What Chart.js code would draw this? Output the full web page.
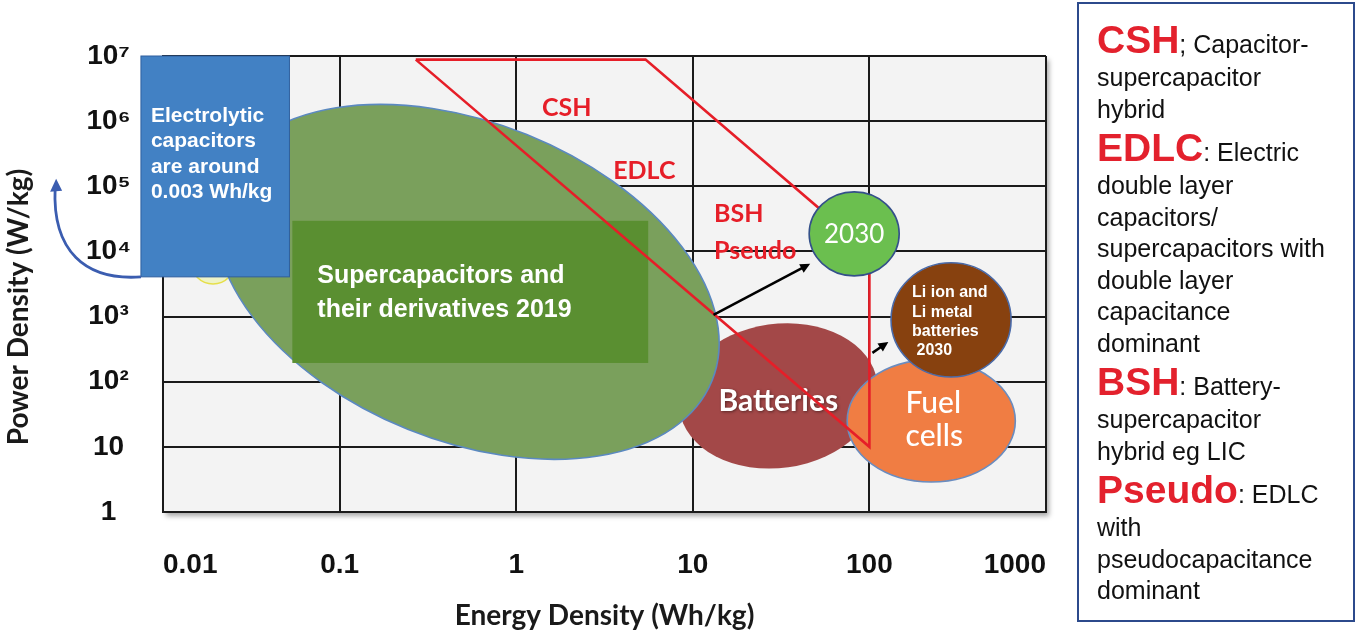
<!DOCTYPE html>
<html>
<head>
<meta charset="utf-8">
<title>Ragone plot</title>
<script src="https://cdn.jsdelivr.net/npm/chart.js@4.4.1/dist/chart.umd.min.js"></script>
<style>
  html, body { margin: 0; padding: 0; background: #fff; }
  #wrap { position: absolute; left: 0; top: 0; width: 1082px; height: 640px; }
  #key {
    position: absolute; left: 1077px; top: 2px; width: 256px; height: 603px;
    border: 2px solid #2c4a8c; padding: 13px 0 0 18px;
    font-family: "Liberation Sans", Arial, sans-serif; color: #111;
  }
  #key .h { height: 45px; line-height: 45px; font-size: 39px; white-space: nowrap; }
  #key .h b { color: #e3212d; }
  #key .h span { font-size: 25px; }
  #key .l { height: 31.5px; line-height: 31.5px; font-size: 25px; white-space: nowrap; }
</style>
</head>
<body>
<div id="wrap"><canvas id="ragone"></canvas></div>
<div id="key">
  <div class="h"><b>CSH</b><span>; Capacitor-</span></div>
  <div class="l">supercapacitor</div>
  <div class="l">hybrid</div>
  <div class="h"><b>EDLC</b><span>: Electric</span></div>
  <div class="l">double layer</div>
  <div class="l">capacitors/</div>
  <div class="l">supercapacitors with</div>
  <div class="l">double layer</div>
  <div class="l">capacitance</div>
  <div class="l">dominant</div>
  <div class="h"><b>BSH</b><span>: Battery-</span></div>
  <div class="l">supercapacitor</div>
  <div class="l">hybrid eg LIC</div>
  <div class="h"><b>Pseudo</b><span>: EDLC</span></div>
  <div class="l">with</div>
  <div class="l">pseudocapacitance</div>
  <div class="l">dominant</div>
</div>
<script>
// axes
const energyTicks = [0.01, 0.1, 1, 10, 100, 1000];
const energyLabels = ['0.01', '0.1', '1', '10', '100', '1000'];
const powerTicks = [1, 10, 1e2, 1e3, 1e4, 1e5, 1e6, 1e7];
const powerLabels = ['1', '10', '10²', '10³', '10⁴', '10⁵', '10⁶', '10⁷'];

// red envelope (CSH / EDLC / BSH / Pseudo)
const envelopeE = [0.27, 5.4, 100, 100, 0.27];
const envelopeP = [8.8e6, 8.8e6, 1.0e4, 10, 8.8e6];

// regions: centre (Wh/kg, W/kg) and half span in decades
const regionE = [0.0192, 30.5, 0.528, 224, 82, 290];
const regionP = [6920, 60.5, 3410, 25, 18600, 890];
const regionSpanE = [0.125, 0.566, 1.495, 0.476, 0.255, 0.34];
const regionSpanP = [0.34, 1.106, 2.44, 0.937, 0.645, 0.876];

// boxes [min, max]
const electrolyticE = [0.0075, 0.052];
const electrolyticP = [4070, 1e7];
const superBoxE = [0.054, 5.59];
const superBoxP = [194, 2.95e4];

// arrows
const arrowFromE = [13.1, 104];
const arrowFromP = [1060, 277];
const arrowToE = [46.2, 128];
const arrowToP = [6450, 408];
const curveTipE = 0.00245;
const curveTipP = 1.3e5;

// red tags
const tagText = ['CSH', 'EDLC', 'BSH', 'Pseudo'];
const tagE = [1.40, 3.54, 13.2, 13.2];
const tagP = [1.6e6, 1.73e5, 3.78e4, 1.02e4];

// styles
const regionFill = ['#eef3c8', '#a34848', '#7aa05c', '#f07d43', '#6bbf4f', '#87410f'];
const regionEdge = ['#e6df4a', null, '#5b89c0', '#6a8cbf', '#34508a', '#4a6aa8'];
const regionTilt = [0, -8, 22, 0, 0, 0];
const RED = '#e61e28';
const ARIAL = '"Liberation Sans", Arial, sans-serif';
const CALIBRI = 'Lato, "Open Sans", sans-serif';

function blob(ctx, xs, ys, i) {
  const cx = xs.getPixelForValue(regionE[i]), cy = ys.getPixelForValue(regionP[i]);
  const rx = xs.getPixelForValue(regionE[i] * Math.pow(10, regionSpanE[i])) - cx;
  const ry = cy - ys.getPixelForValue(regionP[i] * Math.pow(10, regionSpanP[i]));
  ctx.save();
  ctx.beginPath();
  ctx.ellipse(cx, cy, rx, ry, regionTilt[i] * Math.PI / 180, 0, Math.PI * 2);
  ctx.fillStyle = regionFill[i];
  ctx.fill();
  if (regionEdge[i]) { ctx.strokeStyle = regionEdge[i]; ctx.lineWidth = 1.6; ctx.stroke(); }
  ctx.restore();
  return {cx, cy};
}

function label(ctx, str, x, y, font, color, align, shadow) {
  ctx.save();
  ctx.font = font; ctx.fillStyle = color;
  ctx.textAlign = align || 'center'; ctx.textBaseline = 'alphabetic';
  if (shadow) { ctx.shadowColor = 'rgba(0,0,0,0.45)'; ctx.shadowBlur = 3; ctx.shadowOffsetX = 1; ctx.shadowOffsetY = 1; }
  ctx.fillText(str, x, y);
  ctx.restore();
}

function arrow(ctx, x1, y1, x2, y2, color, w, head) {
  const ang = Math.atan2(y2 - y1, x2 - x1);
  ctx.save();
  ctx.strokeStyle = color; ctx.fillStyle = color; ctx.lineWidth = w;
  ctx.beginPath(); ctx.moveTo(x1, y1);
  ctx.lineTo(x2 - head * 0.7 * Math.cos(ang), y2 - head * 0.7 * Math.sin(ang)); ctx.stroke();
  ctx.beginPath(); ctx.moveTo(x2, y2);
  ctx.lineTo(x2 - head * Math.cos(ang - 0.45), y2 - head * Math.sin(ang - 0.45));
  ctx.lineTo(x2 - head * Math.cos(ang + 0.45), y2 - head * Math.sin(ang + 0.45));
  ctx.closePath(); ctx.fill();
  ctx.restore();
}

const shapes = {
  id: 'shapes',
  beforeDraw(chart) {
    const {ctx, chartArea: a} = chart;
    ctx.save();
    ctx.shadowColor = 'rgba(0,0,0,0.35)'; ctx.shadowBlur = 5;
    ctx.shadowOffsetX = 3; ctx.shadowOffsetY = 4;
    ctx.fillStyle = '#f3f3f3';
    ctx.fillRect(a.left, a.top, a.width, a.height);
    ctx.restore();
  },
  beforeDatasetsDraw(chart) {
    const ctx = chart.ctx, xs = chart.scales.x, ys = chart.scales.y;
    blob(ctx, xs, ys, 0);
    const bat = blob(ctx, xs, ys, 1);
    blob(ctx, xs, ys, 2);
    // supercapacitor box
    const l = xs.getPixelForValue(superBoxE[0]), r = xs.getPixelForValue(superBoxE[1]);
    const t = ys.getPixelForValue(superBoxP[1]), b = ys.getPixelForValue(superBoxP[0]);
    ctx.fillStyle = '#5a8f31';
    ctx.fillRect(l, t, r - l, b - t);
    label(ctx, 'Supercapacitors and', l + 25, t + 62, 'bold 25px ' + ARIAL, '#fff', 'left');
    label(ctx, 'their derivatives 2019', l + 25, t + 96, 'bold 25px ' + ARIAL, '#fff', 'left');
    const fuel = blob(ctx, xs, ys, 3);
    label(ctx, 'Batteries', bat.cx, bat.cy + 15, 'bold 30px ' + CALIBRI, '#fff', 'center', true);
    label(ctx, 'Fuel', fuel.cx + 2, fuel.cy - 8, '500 30px ' + CALIBRI, '#fff');
    label(ctx, 'cells', fuel.cx + 3, fuel.cy + 25, '500 30px ' + CALIBRI, '#fff');
  },
  afterDatasetsDraw(chart) {
    const ctx = chart.ctx, xs = chart.scales.x, ys = chart.scales.y;
    for (let i = 0; i < arrowFromE.length; i++) {
      arrow(ctx, xs.getPixelForValue(arrowFromE[i]), ys.getPixelForValue(arrowFromP[i]),
        xs.getPixelForValue(arrowToE[i]), ys.getPixelForValue(arrowToP[i]), '#000', 2.5, 11);
    }
    const c30 = blob(ctx, xs, ys, 4);
    label(ctx, '2030', c30.cx, c30.cy + 9, '26px ' + CALIBRI, '#fff');
    const li = blob(ctx, xs, ys, 5);
    const liLines = ['Li ion and', 'Li metal', 'batteries', ' 2030'];
    const liDy = [-23, -3, 16, 35];
    liLines.forEach((s, k) => label(ctx, s, li.cx - 39, li.cy + liDy[k], 'bold 16px ' + ARIAL, '#fff', 'left'));
    // electrolytic capacitors box
    const l = xs.getPixelForValue(electrolyticE[0]), r = xs.getPixelForValue(electrolyticE[1]);
    const t = ys.getPixelForValue(electrolyticP[1]), b = ys.getPixelForValue(electrolyticP[0]);
    ctx.save();
    ctx.fillStyle = '#4281c4'; ctx.strokeStyle = '#2f5f9e'; ctx.lineWidth = 1;
    ctx.fillRect(l, t, r - l, b - t); ctx.strokeRect(l, t, r - l, b - t);
    ctx.restore();
    ['Electrolytic', 'capacitors', 'are around', '0.003 Wh/kg'].forEach((s, k) =>
      label(ctx, s, l + 10, t + 66 + k * 25.3, 'bold 21px ' + ARIAL, '#fff', 'left'));
    // curved blue arrow
    const tx = xs.getPixelForValue(curveTipE), ty = ys.getPixelForValue(curveTipP);
    ctx.save();
    ctx.strokeStyle = '#3b5db0'; ctx.fillStyle = '#3b5db0'; ctx.lineWidth = 2.8;
    ctx.beginPath(); ctx.moveTo(l, b);
    ctx.bezierCurveTo(l - 56, b + 4, tx - 3, b - 26, tx, ty + 9);
    ctx.stroke();
    ctx.beginPath(); ctx.moveTo(tx + 1, ty);
    ctx.lineTo(tx - 5, ty + 13); ctx.lineTo(tx + 7, ty + 12); ctx.closePath(); ctx.fill();
    ctx.restore();
    tagText.forEach((s, k) => {
      ctx.save();
      ctx.font = 'bold 25px ' + CALIBRI; ctx.fillStyle = RED;
      ctx.textAlign = 'left'; ctx.textBaseline = 'middle';
      ctx.fillText(s, xs.getPixelForValue(tagE[k]), ys.getPixelForValue(tagP[k]));
      ctx.restore();
    });
  },
  afterDraw(chart) {
    // y axis title, sitting a little below the plot centre as in the original
    const {ctx, chartArea: a} = chart;
    ctx.save();
    ctx.translate(19, (a.top + a.bottom) / 2 + 23);
    ctx.rotate(-Math.PI / 2);
    ctx.font = 'bold 28px ' + CALIBRI; ctx.fillStyle = '#1a1a1a';
    ctx.textAlign = 'center'; ctx.textBaseline = 'middle';
    ctx.fillText('Power Density (W/kg)', 0, 0);
    ctx.restore();
  }
};

new Chart(document.getElementById('ragone'), {
  type: 'scatter',
  data: {
    datasets: [{
      label: 'envelope',
      data: envelopeE.map((e, i) => ({x: e, y: envelopeP[i]})),
      showLine: true,
      borderColor: RED,
      borderWidth: 2.6,
      pointRadius: 0,
      fill: false,
      tension: 0
    }]
  },
  options: {
    responsive: true,
    maintainAspectRatio: false,
    animation: false,
    layout: {padding: {top: 56, right: 0, bottom: 3, left: 0}},
    plugins: {legend: {display: false}, tooltip: {enabled: false}},
    scales: {
      x: {
        type: 'logarithmic', min: 0.01, max: 1000,
        afterBuildTicks: s => { s.ticks = energyTicks.map(v => ({value: v})); },
        afterFit: s => { s.height = 125; },
        ticks: {
          callback: v => energyLabels[energyTicks.indexOf(v)],
          font: {family: ARIAL, weight: 'bold', size: 28},
          color: '#111', padding: 36, maxRotation: 0, autoSkip: false, align: 'inner'
        },
        grid: {color: '#1a1a1a', lineWidth: 2, drawTicks: false},
        border: {color: '#1a1a1a', width: 2},
        title: {
          display: true, text: 'Energy Density (Wh/kg)', color: '#1a1a1a',
          font: {family: CALIBRI, weight: 'bold', size: 28}, padding: {top: 4, bottom: 4}
        }
      },
      y: {
        type: 'logarithmic', min: 1, max: 1e7,
        afterBuildTicks: s => { s.ticks = powerTicks.map(v => ({value: v})); },
        afterFit: s => { s.width = 163; },
        ticks: {
          callback: v => powerLabels[powerTicks.indexOf(v)],
          font: {family: ARIAL, weight: 'bold', size: 28},
          color: '#111', padding: 32, crossAlign: 'center', autoSkip: false
        },
        grid: {color: '#1a1a1a', lineWidth: 2, drawTicks: false},
        border: {color: '#1a1a1a', width: 2},
        title: {display: false}
      }
    }
  },
  plugins: [shapes]
});
</script>
</body>
</html>
